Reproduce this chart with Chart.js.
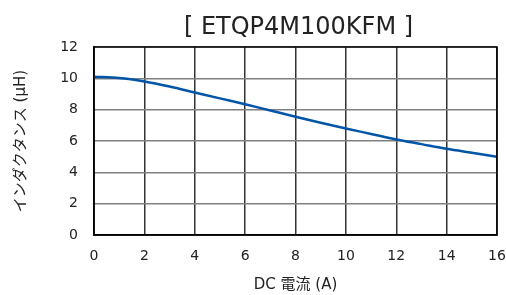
<!DOCTYPE html>
<html>
<head>
<meta charset="utf-8">
<script src="https://cdn.jsdelivr.net/npm/chart.js@4"></script>
<style>
  html, body { margin: 0; padding: 0; background: #fff; }
  canvas { display: block; }
</style>
</head>
<body>
<canvas id="lineChart" width="506" height="295"></canvas>
<script>
// DC current (A) and inductance (uH)
var current = [0, 1, 2, 3, 4, 5, 6, 7, 8, 9, 10, 11, 12, 13, 14, 15, 16];
var inductance = [10.1, 10.02, 9.8, 9.48, 9.1, 8.72, 8.35, 7.95, 7.55, 7.17, 6.8, 6.45, 6.1, 5.8, 5.5, 5.25, 5.0];
var chartTitle = '[ ETQP4M100KFM ]';
var xTitle = 'DC 電流 (A)';
var yTitle = 'インダクタンス (μH)';

var FONT = '"DejaVu Sans", Verdana, "Noto Sans CJK JP", sans-serif';

// box around the plot area + title centred over the plot (not the canvas)
var frame = {
  id: 'frame',
  afterDraw: function (chart) {
    var a = chart.chartArea, ctx = chart.ctx;
    ctx.save();
    ctx.strokeStyle = '#000';
    ctx.lineWidth = 1.5;
    ctx.strokeRect(a.left, a.top, a.right - a.left, a.bottom - a.top);

    ctx.fillStyle = '#222';
    ctx.font = '24px ' + FONT;
    ctx.textAlign = 'center';
    ctx.textBaseline = 'alphabetic';
    ctx.fillText(chartTitle, (a.left + a.right) / 2 + 3, 34);
    ctx.restore();
  }
};

var points = current.map(function (c, i) { return { x: c, y: inductance[i] }; });

var ctx = document.getElementById('lineChart').getContext('2d');
var myChart = new Chart(ctx, {
  type: 'line',
  data: {
    datasets: [{
      data: points,
      borderColor: '#0055a8',
      borderWidth: 2.5,
      pointRadius: 0,
      fill: false,
      tension: 0.4,
      cubicInterpolationMode: 'monotone'
    }]
  },
  options: {
    responsive: false,
    animation: false,
    layout: { autoPadding: false, padding: { left: 0, right: 9, top: 47, bottom: 0 } },
    plugins: {
      legend: { display: false },
      tooltip: { enabled: false },
      title: { display: false }
    },
    scales: {
      x: {
        type: 'linear',
        min: 0, max: 16,
        afterFit: function (s) { s.height = 60; s.paddingLeft = 0; s.paddingRight = 0; },
        ticks: { stepSize: 2, color: '#222', padding: 13, font: { family: FONT, size: 14 } },
        grid: { color: '#333', lineWidth: 1.5, drawTicks: false },
        border: { color: '#000', width: 1.5 },
        title: { display: true, text: xTitle, color: '#222', font: { family: FONT, size: 15 }, padding: { top: 0, bottom: 1 } }
      },
      y: {
        min: 0, max: 12,
        afterFit: function (s) { s.width = 94; s.paddingTop = 0; s.paddingBottom = 0; },
        ticks: { stepSize: 2, color: '#222', padding: 16, font: { family: FONT, size: 14 } },
        grid: { color: '#808080', lineWidth: 1.5, drawTicks: false },
        border: { color: '#000', width: 1.5 },
        title: { display: true, text: yTitle, color: '#222', font: { family: FONT, size: 15 }, padding: { top: 12, bottom: 0 } }
      }
    }
  },
  plugins: [frame]
});
</script>
</body>
</html>
